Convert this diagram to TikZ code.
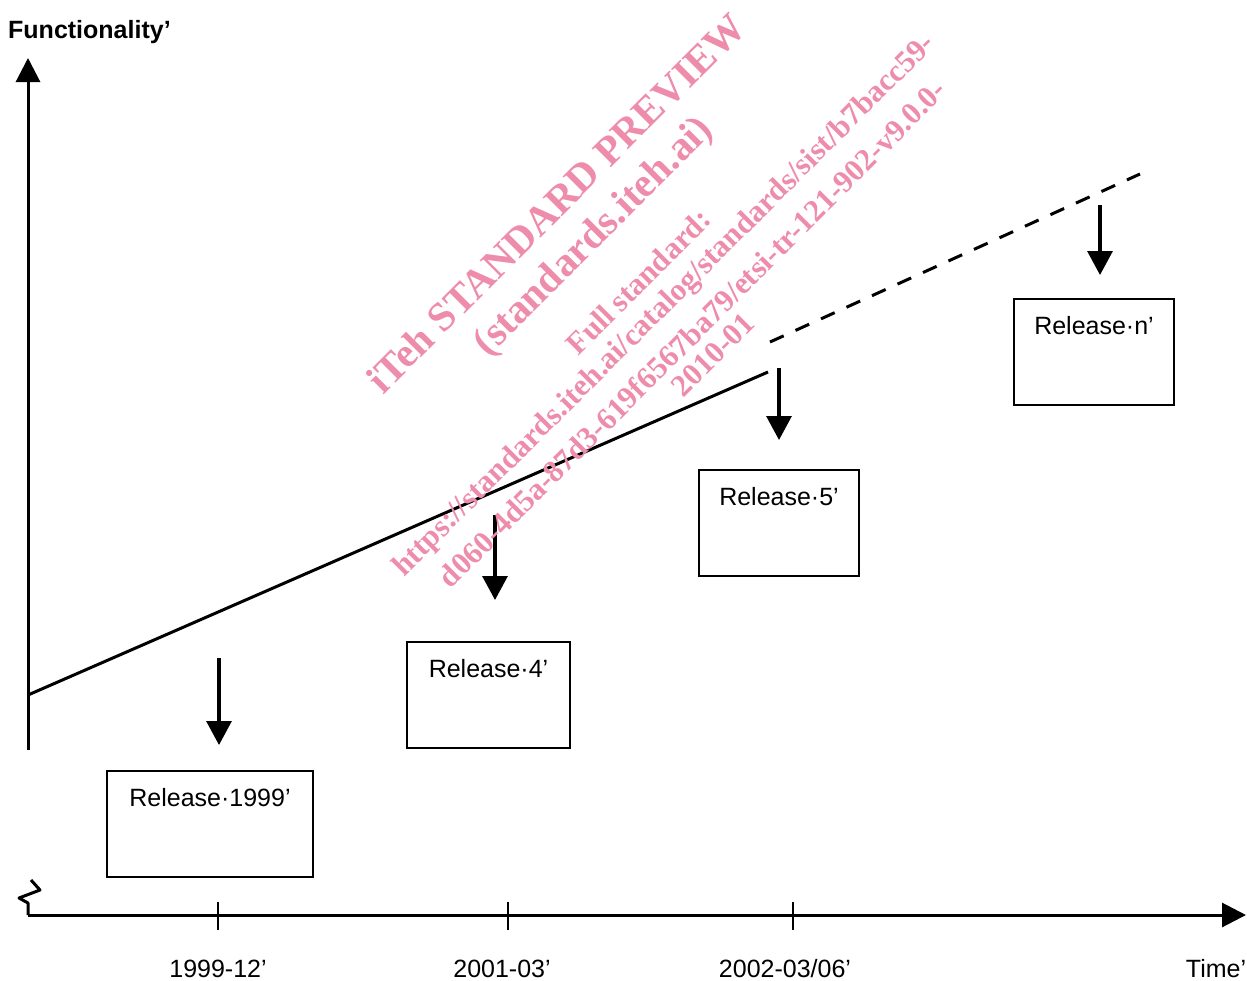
\documentclass[tikz,border=0pt]{standalone}
\usepackage{fontspec}
\setmainfont{Liberation Sans}
\newfontfamily\wmfont{Liberation Serif}
\usetikzlibrary{arrows.meta,calc}
\definecolor{wmpink}{RGB}{238,140,172}
\tikzset{
  bigarrow/.style={line width=3.2pt,-{Triangle[width=25pt,length=24pt]}},
  axisarrow/.style={line width=3pt,-{Triangle[width=24pt,length=24pt]}},
  box/.style={draw,line width=1.8pt,inner sep=0pt},
  lbl/.style={font=\fontsize{25}{30}\selectfont,inner sep=0pt},
  ticklbl/.style={font=\fontsize{25}{30}\selectfont,inner sep=0pt,anchor=base},
  tick/.style={line width=1.6pt},
  trend/.style={line width=3pt},
  wmbig/.style={text=wmpink,font=\wmfont\bfseries\fontsize{41}{48}\selectfont,rotate=45,inner sep=0pt},
  wmsmall/.style={text=wmpink,font=\wmfont\bfseries\fontsize{31}{36}\selectfont,rotate=45,inner sep=0pt},
}
\begin{document}
\begin{tikzpicture}[x=1pt,y=-1pt]
\useasboundingbox (0,0) rectangle (1247,980);
% axes
\coordinate (o) at (28,915);
\coordinate (ytop) at (28,58);
\coordinate (ybot) at (28,750);
\coordinate (xend) at (1246,915);
\draw[axisarrow] (ybot) -- (ytop);
\draw[axisarrow] (o) -- (xend);
\draw[line width=3pt,line join=round] (o) -- (28,903) -- (19,898) -- (40,890) -- (31,880);
\node[font=\bfseries\fontsize{25}{30}\selectfont,inner sep=0pt,anchor=west] (ftitle) at (8,32) {Functionality'};
% ticks
\foreach \x/\n in {218/t1,508/t2,793/t3}{
  \coordinate (\n a) at (\x,902);
  \coordinate (\n b) at (\x,930);
  \draw[tick] (\n a) -- (\n b);
}
\node[ticklbl] (l1) at (218,977) {1999-12'};
\node[ticklbl] (l2) at (502,977) {2001-03'};
\node[ticklbl] (l3) at (785,977) {2002-03/06'};
\node[ticklbl] (l4) at (1216,977) {Time'};
% trend lines
\coordinate (s0) at (28,695);
\coordinate (s1) at (768,372);
\coordinate (d0) at (770,342);
\coordinate (d1) at (1140,174);
\draw[trend] (s0) -- (s1);
\draw[trend,dash pattern=on 15pt off 13pt] (d0) -- (d1);
% boxes
\node[box,minimum width=206pt,minimum height=106pt] (b1) at (210,824) {};
\node[box,minimum width=163pt,minimum height=106pt] (b2) at (488.5,695) {};
\node[box,minimum width=160pt,minimum height=106pt] (b3) at (779,523) {};
\node[box,minimum width=160pt,minimum height=106pt] (b4) at (1094,352) {};
\node[lbl,anchor=base] (r1) at ($(b1.north)+(0,36)$) {Release·1999’};
\node[lbl,anchor=base] (r2) at ($(b2.north)+(0,36)$) {Release·4’};
\node[lbl,anchor=base] (r3) at ($(b3.north)+(0,36)$) {Release·5’};
\node[lbl,anchor=base] (r4) at ($(b4.north)+(0,36)$) {Release·n’};
% down arrows
\coordinate (a1s) at (219,658); \coordinate (a1e) at (219,745);
\coordinate (a2s) at (495,515); \coordinate (a2e) at (495,600);
\coordinate (a3s) at (779,368); \coordinate (a3e) at (779,440);
\coordinate (a4s) at (1100,205); \coordinate (a4e) at (1100,275);
\draw[bigarrow] (a1s) -- (a1e);
\draw[bigarrow] (a2s) -- (a2e);
\draw[bigarrow] (a3s) -- (a3e);
\draw[bigarrow] (a4s) -- (a4e);
% watermark
\node[wmbig] (w1) at (556,203) {iTeh STANDARD PREVIEW};
\node[wmbig] (w2) at (594.5,237.5) {(standards.iteh.ai)};
\node[wmsmall] (w3) at (638.5,281.5) {Full standard:};
\node[wmsmall] (w4) at (665,306) {https://standards.iteh.ai/catalog/standards/sist/b7bacc59-};
\node[wmsmall] (w5) at (692,333) {d060-4d5a-87d3-619f6567ba79/etsi-tr-121-902-v9.0.0-};
\node[wmsmall] (w6) at (713,355) {2010-01};
\end{tikzpicture}
\end{document}
